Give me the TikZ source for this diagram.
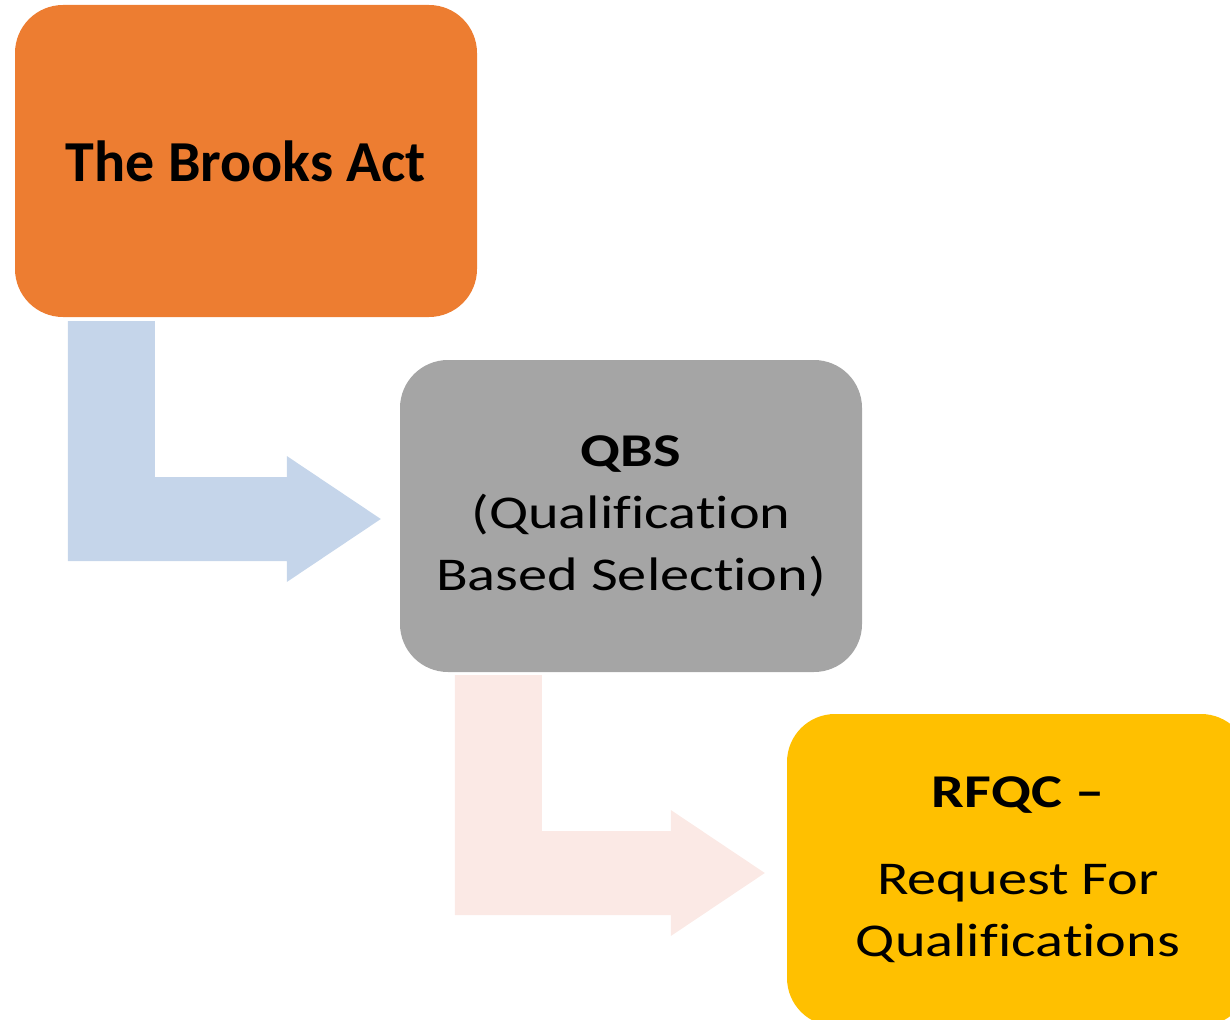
\documentclass[tikz,border=0pt]{standalone}
\usepackage{fontspec}
\setmainfont{Carlito}[Ligatures={NoCommon}]
\newfontfamily\widefont{Carlito}[FakeStretch=1.24, Ligatures={NoCommon}]
\usetikzlibrary{calc}
\definecolor{brooksorange}{HTML}{ED7D31}
\definecolor{qbsgray}{HTML}{A5A5A5}
\definecolor{rfqcyellow}{HTML}{FFC000}
\definecolor{arrowblue}{HTML}{C5D5EA}
\definecolor{arrowpink}{HTML}{FBE9E5}
\tikzset{
  stepbox/.style={rectangle, rounded corners=48pt, minimum width=462pt, minimum height=312pt, inner sep=0pt, align=center},
}
% bent arrow: #1 colour, #2 top left of the stem, #3 tip
\newcommand{\bentarrow}[3]{%
  \fill[#1] (#2) -- ++(87,0) |- ($(#3)+(-94,-42)$) -- ++(0,-21) -- (#3)
    -- ++(-94,63) -- ++(0,-21) -| (#2) -- cycle;}

\begin{document}
\begin{tikzpicture}[x=1pt,y=-1pt]
\useasboundingbox (0,0) rectangle (1230,1019);
\clip (0,0) rectangle (1230,1019);
\node[stepbox, fill=brooksorange, font=\fontsize{58}{70}\selectfont\bfseries] (brooks) at (246,161) {The Brooks Act};
\node[stepbox, fill=qbsgray, font=\widefont\fontsize{47}{62}\selectfont] (qbs) at (631,516) {\textbf{QBS}\\(Qualification\\Based Selection)};
\node[stepbox, fill=rfqcyellow, font=\widefont\fontsize{47}{62}\selectfont] (rfqc) at (1018,870) {\textbf{RFQC –}\\[25pt]Request For\\Qualifications};
\coordinate (stem1) at ($(brooks.south west)+(53,4)$);
\coordinate (tip1) at ($(qbs.west)+(-19,3)$);
\coordinate (stem2) at ($(qbs.south west)+(55,3)$);
\coordinate (tip2) at ($(rfqc.west)+(-22,3)$);
\bentarrow{arrowblue}{stem1}{tip1}
\bentarrow{arrowpink}{stem2}{tip2}
\end{tikzpicture}
\end{document}
